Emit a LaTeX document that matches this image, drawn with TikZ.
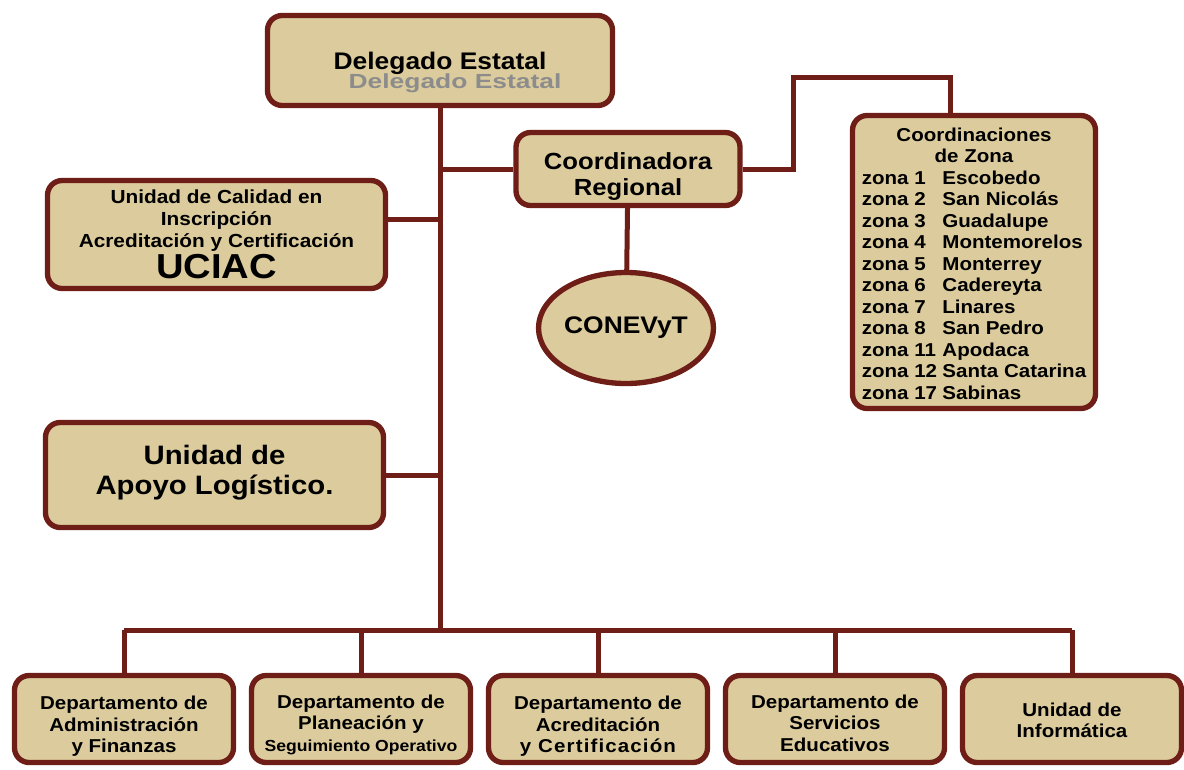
\documentclass[tikz,border=0pt]{standalone}
\usepackage{fontspec}
\setmainfont[FakeStretch=1.1]{Liberation Sans}
\usepackage{tikz}
\usetikzlibrary{positioning,shapes}
\definecolor{marron}{RGB}{110,30,22}
\definecolor{arena}{RGB}{220,204,157}
\newcommand{\desplaza}[2]{\raisebox{#1}[\height][\depth]{\begin{tabular}{@{}c@{}}#2\end{tabular}}}
\tikzstyle{organo}=[
	rectangle,
	rounded corners=11,
	draw=marron,
	fill=arena,
	line width=4,
	align=center,
	inner sep=0,
	font=\bfseries]
\tikzstyle{depto}=[
	organo,
	minimum width=164.25pt,
	minimum height=65.25pt,
	font=\bfseries\fontsize{14}{16}\selectfont]
\tikzstyle{linea}=[draw=marron, line width=3.75]

\begin{document}
\begin{tikzpicture}[x=0.75pt,y=-0.75pt]
		\useasboundingbox (0,0) rectangle (1184,769);
		% organos de arriba
		\node[organo,minimum width=258.75pt,minimum height=67.5pt,
			font=\bfseries\fontsize{18}{20}\selectfont]
			(deleg) at (440,60.5) {\raisebox{-2pt}[\height][\depth]{Delegado Estatal}};
		\node[font=\bfseries\fontsize{18}{20}\selectfont,text=gray!90]
			(delegsombra) at (455,83) {\scalebox{1}[0.85]{Delegado Estatal}};
		\node[organo,minimum width=168pt,minimum height=54.75pt,
			font=\bfseries\fontsize{17.5}{20}\selectfont]
			(coordreg) at (628,169) {\desplaza{-6pt}{Coordinadora\\Regional}};
		\node[organo,ellipse,minimum width=101.25pt,minimum height=83.25pt,
			font=\bfseries\fontsize{18}{20}\selectfont]
			(conevyt) at (626,328) {CONEVyT}
			edge[linea] (coordreg);
		\node[organo,minimum width=182.25pt,minimum height=219.75pt,
			font=\bfseries\fontsize{14}{16.1}\selectfont]
			(zonas) at (974,262) {\raisebox{-3pt}[\height][\depth]{\begin{tabular}{@{}l@{\hspace{4pt}}l@{}}
				\multicolumn{2}{c}{Coordinaciones}\\
				\multicolumn{2}{c}{de Zona}\\
				zona 1 & Escobedo\\
				zona 2 & San Nicolás\\
				zona 3 & Guadalupe\\
				zona 4 & Montemorelos\\
				zona 5 & Monterrey\\
				zona 6 & Cadereyta\\
				zona 7 & Linares\\
				zona 8 & San Pedro\\
				zona 11 & Apodaca\\
				zona 12 & Santa Catarina\\
				zona 17 & Sabinas
			\end{tabular}}};
		% unidades de staff
		\node[organo,minimum width=253.5pt,minimum height=81pt,
			font=\bfseries\fontsize{14.2}{16.5}\selectfont]
			(uciac) at (216.5,234.5) {Unidad de Calidad en\\Inscripción\\
			Acreditación y Certificación\\[1pt]
			{\fontsize{26}{26}\selectfont UCIAC}};
		\node[organo,minimum width=253.5pt,minimum height=78.75pt,
			font=\bfseries\fontsize{20}{22}\selectfont]
			(apoyo) at (214.5,475) {\desplaza{1pt}{Unidad de\\Apoyo Logístico.}};
		% departamentos
		\node[depto] (dadmin) at (124,719)
			{\desplaza{-6pt}{Departamento de\\Administración\\y Finanzas}};
		\node[depto] (dplan) [right=9.5pt of dadmin]
			{\desplaza{-5pt}{Departamento de\\Planeación y\\{\fontsize{12}{16}\selectfont Seguimiento Operativo}}};
		\node[depto] (dacred) [right=9.5pt of dplan]
			{\desplaza{-6pt}{Departamento de\\Acreditación\\{\addfontfeature{LetterSpace=6}y Certificación}}};
		\node[depto] (dserv) [right=9.5pt of dacred]
			{\desplaza{-5pt}{Departamento de\\Servicios\\Educativos}};
		\node[depto] (dinfo) [right=9.5pt of dserv]
			{\desplaza{-3pt}{Unidad de\\Informática}};
		% lineas
		\coordinate (bus) at (440,630);
		\coordinate (codo) at (793,77);
		\draw[linea] (deleg.south) -- (deleg.south |- bus);
		\draw[linea] (deleg.south |- coordreg.west) -- (coordreg.west);
		\draw[linea] ([yshift=11pt]uciac.east) -- ([yshift=11pt]uciac.east -| deleg.south);
		\draw[linea] (apoyo.east) -- (apoyo.east -| deleg.south);
		\draw[linea] (coordreg.east) -| (codo) -| ([xshift=-18pt]zonas.north);
		\draw[linea] (dadmin.north |- bus) -- (dinfo.north |- bus);
		\foreach \d in {dadmin,dplan,dacred,dserv,dinfo}
			\draw[linea] (\d.north |- bus) -- (\d.north);
\end{tikzpicture}
\end{document}
